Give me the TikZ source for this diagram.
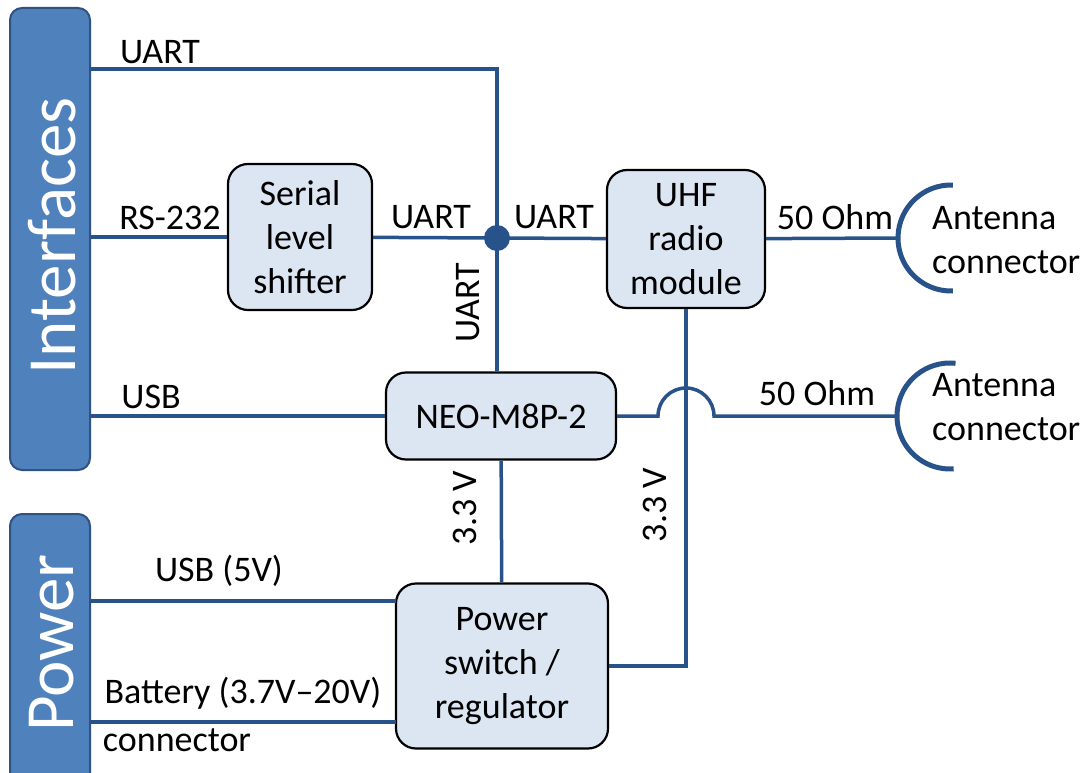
\documentclass[tikz,border=0pt]{standalone}
\usepackage{fontspec}
\setmainfont{Carlito}
\usetikzlibrary{positioning}

\definecolor{wire}{RGB}{40,82,138}
\definecolor{boxfill}{RGB}{220,230,242}
\definecolor{barfill}{RGB}{79,129,189}
\definecolor{barline}{RGB}{47,82,130}

\begin{document}
\begin{tikzpicture}[x=1pt,y=-1pt,
    conn/.style={draw=wire,line width=3.5pt},
    block/.style={draw=black,fill=boxfill,line width=2.2pt,rounded corners=20pt,
                  align=center,inner sep=0pt,font=\fontsize{36}{44}\selectfont},
    sidebar/.style={draw=barline,fill=barfill,line width=2pt,rounded corners=12pt,inner sep=0pt},
    bartext/.style={text=white,rotate=90,font=\fontsize{69}{74}\selectfont},
    lbl/.style={inner sep=0pt,font=\fontsize{36}{42}\selectfont},
    antenna/.style={draw=wire,line width=5pt}]

                \clip (0,0) rectangle (1090,773);

                % side bars
                \node[sidebar,minimum width=80pt,minimum height=462pt] (ifbar) at (50,239) {};
                \node[bartext] (iftext) at (52,236) {Interfaces};
                \node[sidebar,minimum width=80pt,minimum height=290pt] (pwrbar) at (50,659) {};
                \node[bartext] (pwrtext) at (52,643) {Power};

                % blocks
                \node[block,minimum width=144pt,minimum height=146pt] (shifter) at (300,237) {Serial\\level\\shifter};
                \node[block,minimum width=158pt,minimum height=138pt] (uhf) at (686,239) {UHF\\radio\\module};
                \node[block,minimum width=230pt,minimum height=87pt] (neo) at (501,416) {NEO-M8P-2};
                \node[block,minimum width=212pt,minimum height=165pt] (power) at (502,666) {Power\\switch /\\regulator};

                \coordinate (j) at (497,238);
                \coordinate (uarttop) at (90,69);
                \coordinate (ant1) at (898,238);
                \coordinate (ant2) at (897,416);
                \coordinate (usb5) at (396,601);
                \coordinate (batt) at (396,722);

                % wires
                \draw[conn] (uarttop) -| (j);
                \draw[conn] (ifbar.east |- shifter) -- (shifter);
                \draw[conn] (shifter) -- (j) -- (uhf);
                \draw[conn] (uhf) -- (ant1);
                \draw[conn] (j) -- (neo.north -| j);
                \draw[conn] (ifbar.east |- neo) -- (neo);
                \draw[conn] (neo.east) -- (658,416) arc[start angle=180,end angle=0,radius=28pt] -- (ant2);
                \draw[conn] (neo) -- (power);
                \draw[conn] (uhf) |- (power);
                \draw[conn] (pwrbar.east |- usb5) -- (usb5);
                \draw[conn] (pwrbar.east |- batt) -- (batt);
                \fill[wire] (j) circle (13pt);

                % antenna connectors
                \draw[antenna] (ant1) ++(53pt,0) ++(88:53pt) arc[start angle=88,end angle=272,radius=53pt];
                \draw[antenna] (ant2) ++(53pt,0) ++(84:53pt) arc[start angle=84,end angle=274,radius=53pt];
                \node[lbl,anchor=west,align=left,font=\fontsize{36}{44}\selectfont] (antl1) at (932,240) {Antenna\\connector};
                \node[lbl,anchor=west,align=left,font=\fontsize{36}{44}\selectfont] (antl2) at (932,407) {Antenna\\connector};

                % labels
                \node[lbl] (l1) at (160,52) {UART};
                \node[lbl] (l2) at (170,218) {RS-232};
                \node[lbl] (l3) at (431,217) {UART};
                \node[lbl] (l4) at (554,217) {UART};
                \node[lbl] (l5) at (835,217) {50 Ohm};
                \node[lbl] (l6) at (817,393) {50 Ohm};
                \node[lbl] (l7) at (151,397) {USB};
                \node[lbl,rotate=90] (l8) at (468,303) {UART};
                \node[lbl,rotate=90] (l9) at (465,508) {3.3 V};
                \node[lbl,rotate=90] (l10) at (655,505) {3.3 V};
                \node[lbl] (l11) at (219,571) {USB (5V)};
                \node[lbl] (l12) at (243,693) {Battery (3.7V--20V)};
                \node[lbl] (l13) at (177,740) {connector};

            \end{tikzpicture}
\end{document}
